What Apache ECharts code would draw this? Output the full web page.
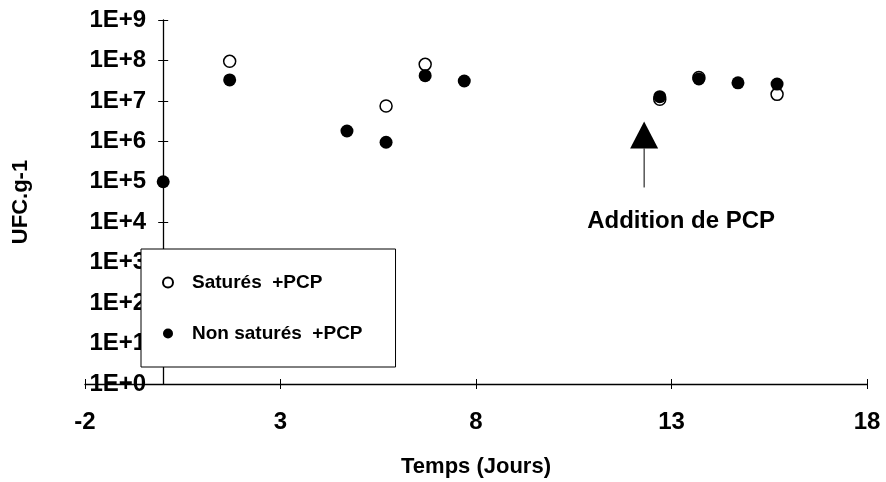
<!DOCTYPE html>
<html>
<head>
<meta charset="utf-8">
<script src="https://cdn.jsdelivr.net/npm/echarts@6/dist/echarts.min.js"></script>
<style>
  html, body { margin: 0; padding: 0; background: #fff; }
  #chart { width: 886px; height: 482px; }
</style>
</head>
<body>
<div id="chart"></div>
<script>
// Dénombrement (UFC par gramme) au cours du temps
const satName = 'Saturés  +PCP';
const satDays = [1.7, 5.7, 6.7, 12.7, 13.7, 15.7];
const satValues = [9.5e7, 7.5e6, 8.0e7, 1.1e7, 3.8e7, 1.45e7];

const nonSatName = 'Non saturés  +PCP';
const nonSatDays = [0, 1.7, 4.7, 5.7, 6.7, 7.7, 12.7, 13.7, 14.7, 15.7];
const nonSatValues = [1e5, 3.3e7, 1.8e6, 9.5e5, 4.2e7, 3.1e7, 1.27e7, 3.5e7, 2.8e7, 2.6e7];

const xTicks = { min: -2, max: 18, interval: 5 };
const yRange = { min: 1, max: 1e9 };
const yAxisCrossDay = 0;

// Ajout du PCP (flèche + légende)
const pcpLabel = 'Addition de PCP';
const pcpDay = 12.3;
const pcpArrowTip = 3.1e6;

const FONT = '"Liberation Sans", Arial, Helvetica, sans-serif';
const GRID_LEFT = 85;

function pairs(xs, ys) { return xs.map((x, i) => [x, ys[i]]); }

const chart = echarts.init(document.getElementById('chart'), null, { renderer: 'canvas' });

const tickStyle = { color: '#000', width: 1 };

chart.setOption({
  backgroundColor: '#fff',
  animation: false,
  grid: { left: GRID_LEFT, right: 19, top: 20, bottom: 98, containLabel: false, outerBoundsMode: 'none' },
  xAxis: [
    {
      type: 'value', min: xTicks.min, max: xTicks.max, interval: xTicks.interval,
      position: 'bottom',
      name: 'Temps (Jours)', nameLocation: 'middle', nameGap: 72,
      nameTextStyle: { fontFamily: FONT, fontWeight: 'bold', fontSize: 22, color: '#000' },
      axisLine: { onZero: false, lineStyle: { color: '#000', width: 1.3 } },
      axisTick: { show: true, length: 5, lineStyle: tickStyle },
      axisLabel: { fontFamily: FONT, fontWeight: 'bold', fontSize: 24, color: '#000', margin: 26 },
      splitLine: { show: false }
    },
    {
      type: 'value', min: xTicks.min, max: xTicks.max, interval: xTicks.interval,
      position: 'bottom',
      axisLine: { show: false, onZero: false },
      axisTick: { show: true, inside: true, length: 5, lineStyle: tickStyle },
      axisLabel: { show: false },
      splitLine: { show: false }
    }
  ],
  yAxis: [
    {
      type: 'log', logBase: 10, min: yRange.min, max: yRange.max,
      position: 'left',
      name: 'UFC.g-1', nameLocation: 'middle', nameGap: 131, nameRotate: 90,
      nameTextStyle: { fontFamily: FONT, fontWeight: 'bold', fontSize: 22, color: '#000' },
      axisLine: { onZero: false, lineStyle: { color: '#000', width: 1.3 } },
      axisTick: { show: true, length: 5, lineStyle: tickStyle },
      axisLabel: {
        fontFamily: FONT, fontWeight: 'bold', fontSize: 24, color: '#000', margin: 17,
        formatter: v => '1E+' + Math.round(Math.log10(v))
      },
      splitLine: { show: false }
    },
    {
      type: 'log', logBase: 10, min: yRange.min, max: yRange.max,
      position: 'left',
      axisLine: { show: false, onZero: false },
      axisTick: { show: true, inside: true, length: 5, lineStyle: tickStyle },
      axisLabel: { show: false },
      splitLine: { show: false }
    }
  ],
  legend: {
    orient: 'vertical',
    left: 141, top: 249,
    backgroundColor: '#fff',
    borderColor: '#000', borderWidth: 1, borderRadius: 0,
    padding: [24, 33, 24, 21],
    itemGap: 32,
    itemWidth: 10, itemHeight: 10,
    icon: 'circle',
    textStyle: { fontFamily: FONT, fontWeight: 'bold', fontSize: 19, color: '#000', padding: [0, 0, 0, 14] },
    data: [satName, nonSatName]
  },
  series: [
    {
      name: satName, type: 'scatter', xAxisIndex: 0, yAxisIndex: 0,
      symbol: 'circle', symbolSize: 12,
      itemStyle: { color: '#fff', borderColor: '#000', borderWidth: 1.5, opacity: 1 },
      data: pairs(satDays, satValues)
    },
    {
      name: nonSatName, type: 'scatter', xAxisIndex: 0, yAxisIndex: 0,
      symbol: 'circle', symbolSize: 13,
      itemStyle: { color: '#000', borderColor: '#000', borderWidth: 0, opacity: 1 },
      data: pairs(nonSatDays, nonSatValues)
    }
  ]
});

// L'axe des ordonnées coupe l'axe des temps au jour 0
const crossX = chart.convertToPixel({ xAxisIndex: 0 }, yAxisCrossDay);
const yOffset = -(crossX - GRID_LEFT);

// Flèche et texte d'annotation placés à partir des coordonnées des axes
const tip = chart.convertToPixel({ gridIndex: 0 }, [pcpDay, pcpArrowTip]);
chart.setOption({
  yAxis: [{ offset: yOffset }, { offset: yOffset }],
  graphic: [
    {
      type: 'polygon', z: 10,
      shape: { points: [[tip[0], tip[1]], [tip[0] - 14, tip[1] + 27], [tip[0] + 14, tip[1] + 27]] },
      style: { fill: '#000' }
    },
    {
      type: 'line', z: 10,
      shape: { x1: tip[0], y1: tip[1] + 27, x2: tip[0], y2: tip[1] + 66 },
      style: { stroke: '#000', lineWidth: 1 }
    },
    {
      type: 'text', z: 10,
      x: tip[0] + 37, y: tip[1] + 100,
      style: {
        text: pcpLabel, fill: '#000',
        font: 'bold 24px ' + FONT,
        align: 'center', verticalAlign: 'middle'
      }
    }
  ]
});
</script>
</body>
</html>
